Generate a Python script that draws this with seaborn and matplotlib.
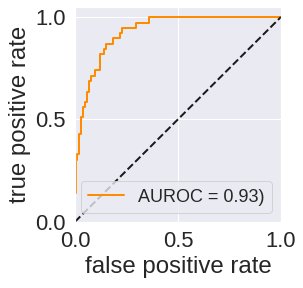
import numpy as np
import matplotlib
matplotlib.use("Agg")
import matplotlib.pyplot as plt
import seaborn as sns

# ROC curve corners (staircase)
fpr = [0.005, 0.005, 0.010, 0.010, 0.021, 0.021, 0.029, 0.029, 0.039, 0.039,
       0.047, 0.047, 0.058, 0.058, 0.068, 0.068, 0.076, 0.076, 0.099, 0.099,
       0.120, 0.120, 0.139, 0.139, 0.149, 0.149, 0.186, 0.186, 0.220, 0.220,
       0.228, 0.228, 0.295, 0.295, 0.359, 0.359, 1.0]
tpr = [0.14, 0.30, 0.30, 0.33, 0.33, 0.43, 0.43, 0.509, 0.509, 0.561,
       0.561, 0.585, 0.585, 0.634, 0.634, 0.686, 0.686, 0.712, 0.712, 0.74,
       0.74, 0.82, 0.82, 0.842, 0.842, 0.868, 0.868, 0.896, 0.896, 0.922,
       0.922, 0.946, 0.946, 0.969, 0.969, 1.0, 1.0]
auroc = 0.93

# chance line
chance_x = [0.0, 1.0]
chance_y = [0.0, 1.0]

ticks = [0.0, 0.5, 1.0]

sns.set_theme(style="darkgrid", font_scale=2)
plt.rcParams["font.family"] = ["Liberation Sans", "DejaVu Sans"]

fig = plt.figure(figsize=(303 / 72, 288 / 72), dpi=72)
ax = fig.add_axes([75 / 303, (288 - 221.7) / 288, 206 / 303, 214.4 / 288])

sns.lineplot(x=fpr, y=tpr, sort=False, estimator=None, color="darkorange",
             lw=2, label="AUROC = %.2f)" % auroc, ax=ax)
ax.plot(chance_x, chance_y, "k--", lw=2)

ax.set_xlim(0, 1)
ax.set_ylim(0, 1.047)
ax.set_xticks(ticks)
ax.set_yticks(ticks)
ax.set_xlabel("false positive rate")
ax.set_ylabel("true positive rate")
ax.legend(loc="lower right", fontsize=18)

fig.savefig("out.png", dpi=72)
